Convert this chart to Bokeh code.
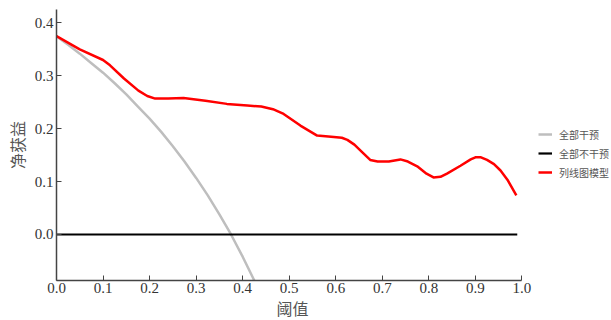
from bokeh.plotting import figure
from bokeh.models import Range1d, Legend, LegendItem, FixedTicker, Title
from bokeh.embed import file_html
from bokeh.resources import INLINE

# Treat all ("全部干预")
all_x = [0.0, 0.025, 0.05, 0.075, 0.1, 0.125, 0.15, 0.175, 0.2, 0.225, 0.25,
         0.275, 0.3, 0.325, 0.35, 0.375, 0.4, 0.425, 0.45]
all_y = [0.375, 0.359, 0.342, 0.324, 0.306, 0.286, 0.265, 0.242, 0.219, 0.194,
         0.167, 0.138, 0.107, 0.074, 0.038, 0.000, -0.042, -0.087, -0.136]

# Treat none ("全部不干预")
none_x = [0.0, 0.99]
none_y = [0.0, 0.0]

# Nomogram model ("列线图模型")
model_x = [0.0, 0.05, 0.10, 0.115, 0.145, 0.176, 0.195, 0.212, 0.24, 0.273, 0.32, 0.366,
           0.41, 0.44, 0.465, 0.488, 0.524, 0.56, 0.59, 0.613, 0.625, 0.64, 0.66, 0.674,
           0.69, 0.714, 0.739, 0.755, 0.775, 0.795, 0.81, 0.825, 0.839, 0.868, 0.89, 0.90,
           0.912, 0.925, 0.94, 0.954, 0.97, 0.988]
model_y = [0.375, 0.350, 0.330, 0.320, 0.295, 0.272, 0.262, 0.257, 0.257, 0.258, 0.253, 0.247,
           0.244, 0.242, 0.237, 0.228, 0.206, 0.187, 0.185, 0.183, 0.179, 0.170, 0.153, 0.141,
           0.138, 0.138, 0.142, 0.138, 0.129, 0.115, 0.108, 0.109, 0.115, 0.130, 0.142, 0.146,
           0.146, 0.141, 0.133, 0.121, 0.102, 0.074]

x_ticks = [0.0, 0.1, 0.2, 0.3, 0.4, 0.5, 0.6, 0.7, 0.8, 0.9, 1.0]
x_tick_labels = ["0.0", "0.1", "0.2", "0.3", "0.4", "0.5", "0.6", "0.7", "0.8", "0.9", "1.0"]
y_ticks = [0.0, 0.1, 0.2, 0.3, 0.4]
y_tick_labels = ["0.0", "0.1", "0.2", "0.3", "0.4"]

p = figure(width=611, height=320, output_backend="svg", toolbar_location=None,
           x_range=Range1d(0, 554.5 / 465), y_range=Range1d(-0.087, 0.4255),
           min_border_left=56, min_border_right=0, min_border_top=9, min_border_bottom=40)
p.outline_line_color = None
p.grid.visible = False
p.background_fill_color = "white"
p.border_fill_color = "white"

r_all = p.line(all_x, all_y, line_color="#bebebe", line_width=2.5)
r_none = p.line(none_x, none_y, line_color="black", line_width=2.2)
r_model = p.line(model_x, model_y, line_color="#ff0000", line_width=2.5,
                 line_join="round")

tick_font = "Liberation Serif"
for ax in (p.xaxis[0], p.yaxis[0]):
    ax.axis_line_color = "#444444"
    ax.axis_line_width = 1.5
    ax.major_tick_line_color = "#444444"
    ax.major_tick_in = 5
    ax.major_tick_out = 0
    ax.minor_tick_line_color = None
    ax.major_label_text_font = tick_font
    ax.major_label_text_font_size = "15px"
    ax.major_label_text_color = "#333333"
    ax.axis_label_text_font = "Liberation Serif, Noto Sans CJK SC"
    ax.axis_label_text_font_size = "16px"
    ax.axis_label_text_font_style = "normal"
    ax.axis_label_text_color = "#555555"

p.xaxis[0].bounds = (0, 1)
p.xaxis[0].ticker = FixedTicker(ticks=x_ticks)
p.xaxis[0].major_label_overrides = dict(zip(x_ticks, x_tick_labels))
p.yaxis[0].ticker = FixedTicker(ticks=y_ticks)
p.yaxis[0].major_label_overrides = dict(zip(y_ticks, y_tick_labels))
p.yaxis[0].axis_label = "净获益"
p.xaxis[0].major_label_standoff = 2
p.yaxis[0].major_label_standoff = 3
p.yaxis[0].axis_label_standoff = 5

x_title = Title(text="阈值", align="left", offset=220, standoff=6,
                text_font="Liberation Serif, Noto Sans CJK SC", text_font_size="16px",
                text_font_style="normal", text_color="#555555")
p.add_layout(x_title, "below")

legend = Legend(items=[LegendItem(label="全部干预", renderers=[r_all]),
                       LegendItem(label="全部不干预", renderers=[r_none]),
                       LegendItem(label="列线图模型", renderers=[r_model])],
                location=(482, 100))
legend.label_text_font = "Noto Sans CJK SC"
legend.label_text_font_size = "10px"
legend.label_text_color = "#555555"
legend.glyph_width = 14
legend.glyph_height = 16
legend.label_height = 16
legend.label_standoff = 7
legend.spacing = 3
legend.padding = 0
legend.margin = 0
legend.border_line_color = None
legend.background_fill_alpha = 0
p.add_layout(legend, "center")

open("out.html", "w").write(file_html(p, INLINE))
